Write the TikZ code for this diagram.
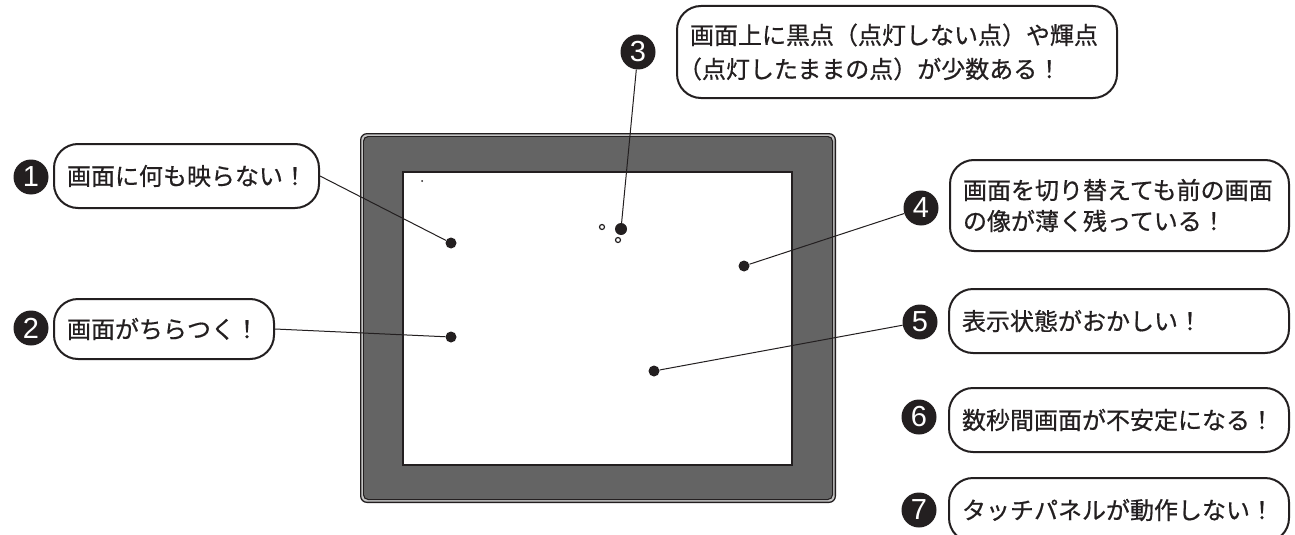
\documentclass[tikz,border=0pt]{standalone}
\usepackage{fontspec}
\newfontfamily\jp[FakeBold=0.6]{Noto Sans CJK JP}
\newfontfamily\digitfont{Liberation Sans}
\definecolor{ink}{HTML}{231F20}
\definecolor{bezel}{HTML}{646464}
\definecolor{rim}{HTML}{C4C4C4}
\begin{document}
\begin{tikzpicture}[x=1pt,y=-1pt,
  callout/.style={draw=ink, line width=2pt, rounded corners=24pt, anchor=north west,
    inner xsep=13pt, inner ysep=0pt, align=left, text=ink,
    font=\jp\fontsize{24}{32}\selectfont},
  num/.style={circle, fill=ink, text=white, minimum size=35pt, inner sep=0pt,
    font=\digitfont\fontsize{29}{29}\selectfont},
  dot/.style={circle, fill=ink, minimum size=11pt, inner sep=0pt},
  ring/.style={circle, draw=ink, line width=1.2pt, fill=white, minimum size=5pt, inner sep=0pt},
  conn/.style={draw=ink, line width=1pt}]
\useasboundingbox (0,0) rectangle (1295,535);
\fill[white] (0,0) rectangle (1295,535);

% monitor
\fill[ink, rounded corners=7pt] (360,133) rectangle (836,503);
\fill[rim, rounded corners=6pt] (361.3,134.3) rectangle (834.7,501.7);
\fill[ink, rounded corners=5pt] (363,136) rectangle (833,500);
\fill[bezel, rounded corners=4pt] (364.2,137.2) rectangle (831.8,498.8);
\draw[ink, line width=1.4pt, fill=white] (403,172) rectangle (792,465);
\fill[ink] (422,181) circle (1pt);

% dots
\node[dot] (d1) at (451,243) {};
\node[dot] (d2) at (451,337) {};
\node[dot, minimum size=12pt] (d3) at (621,229) {};
\node[ring] (r3a) at (602,227) {};
\node[ring] (r3b) at (618,240) {};
\node[dot] (d4) at (744,266) {};
\node[dot] (d5) at (654,371) {};

% callouts
\node[callout, text width=239pt, minimum height=64pt] (b1) at (53,143) {画面に何も映らない！};
\node[callout, text width=194pt, minimum height=60pt] (b2) at (53,298) {画面がちらつく！};
\node[callout, text width=414pt, minimum height=92pt,
      font=\jp\fontsize{24}{34}\selectfont] (b3) at (676,5)
  {画面上に黒点（点灯しない点）や輝点\\\hspace*{-12pt}（点灯したままの点）が少数ある！};
\node[callout, text width=313pt, minimum height=91pt,
      font=\jp\fontsize{24}{31}\selectfont] (b4) at (949,159)
  {画面を切り替えても前の画面\\の像が薄く残っている！};
\node[callout, text width=314pt, minimum height=64pt] (b5) at (948,288) {表示状態がおかしい！};
\node[callout, text width=314pt, minimum height=64pt] (b6) at (948,387) {数秒間画面が不安定になる！};
\node[callout, text width=314pt, minimum height=64pt] (b7) at (948,477) {タッチパネルが動作しない！};

% numbers
\node[num] (n1) at (31,177) {1};
\node[num] (n2) at (31,328) {2};
\node[num] (n3) at (638,52) {3};
\node[num] (n4) at (921,208) {4};
\node[num] (n5) at (920,322) {5};
\node[num] (n6) at (919,417) {6};
\node[num] (n7) at (919,510) {7};

% connectors
\draw[conn] (b1.east) -- (d1);
\draw[conn] (b2.east) -- (d2);
\draw[conn] (n3) -- (d3);
\draw[conn] (n4) -- (d4);
\draw[conn] (n5) -- (d5);
\end{tikzpicture}
\end{document}
